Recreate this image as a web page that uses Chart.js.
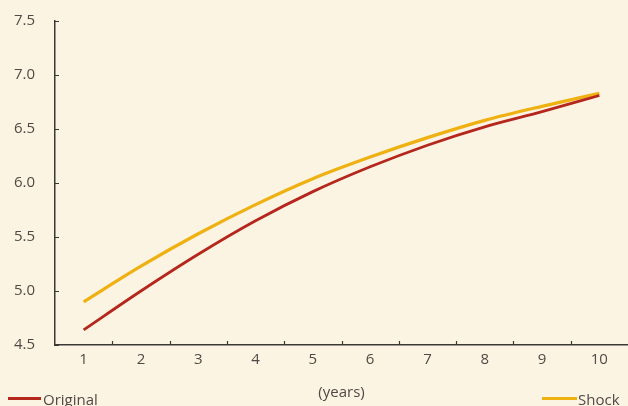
<!DOCTYPE html>
<html>
<head>
<meta charset="utf-8">
<script src="https://cdn.jsdelivr.net/npm/chart.js@4/dist/chart.umd.min.js"></script>
<style>
  html, body { margin: 0; padding: 0; background: #fcf4e3; }
  #wrap { width: 628px; height: 406px; }
</style>
</head>
<body>
<div id="wrap"><canvas id="c" width="628" height="406"></canvas></div>
<script>
// Maturity in years
const years = ['1', '2', '3', '4', '5', '6', '7', '8', '9', '10'];
// Yield curves
const original = [4.64, 5.00, 5.34, 5.65, 5.92, 6.15, 6.35, 6.52, 6.66, 6.81];
const shock = [4.90, 5.23, 5.53, 5.80, 6.04, 6.24, 6.42, 6.58, 6.71, 6.83];
const yMin = 4.5, yMax = 7.5, yStep = 0.5;

const FONT = '"Open Sans", "Noto Sans", sans-serif';
const TEXT = '#4f4a45';
const AXIS = '#3a3835';

// Short inward tick marks on both axes
const innerTicks = {
  id: 'innerTicks',
  afterDatasetsDraw(chart) {
    const { ctx } = chart;
    const x = chart.scales.x, y = chart.scales.y;
    ctx.save();
    ctx.strokeStyle = AXIS;
    ctx.lineWidth = 1.2;
    ctx.beginPath();
    y.ticks.forEach((t, i) => {
      const py = Math.round(y.getPixelForTick(i)) + 0.5;
      ctx.moveTo(y.right, py);
      ctx.lineTo(y.right + 4, py);
    });
    for (let i = 1; i < years.length; i++) {
      const px = Math.round((x.getPixelForValue(i - 1) + x.getPixelForValue(i)) / 2) + 0.5;
      ctx.moveTo(px, x.top);
      ctx.lineTo(px, x.top - 4);
    }
    ctx.stroke();
    ctx.restore();
  }
};

// Legend: first series at the bottom-left corner, second at the bottom-right
const cornerLegend = {
  id: 'cornerLegend',
  afterDraw(chart) {
    const { ctx } = chart;
    const ds = chart.data.datasets;
    ctx.save();
    ctx.font = '15px ' + FONT;
    ctx.fillStyle = TEXT;
    ctx.textBaseline = 'alphabetic';
    const lineY = 398.5, baseY = 405;
    // left item
    ctx.strokeStyle = ds[0].borderColor;
    ctx.lineWidth = 3;
    ctx.beginPath(); ctx.moveTo(8, lineY); ctx.lineTo(41, lineY); ctx.stroke();
    ctx.textAlign = 'left';
    ctx.fillText(ds[0].label, 43, baseY);
    // right item
    ctx.strokeStyle = ds[1].borderColor;
    ctx.beginPath(); ctx.moveTo(542, lineY); ctx.lineTo(577, lineY); ctx.stroke();
    ctx.fillText(ds[1].label, 578, baseY);
    ctx.restore();
  }
};

new Chart(document.getElementById('c'), {
  type: 'line',
  data: {
    labels: years,
    datasets: [
      { label: 'Original', data: original, borderColor: '#b5271d', borderWidth: 2.8,
        pointRadius: 0, cubicInterpolationMode: 'monotone', fill: false },
      { label: 'Shock', data: shock, borderColor: '#efb111', borderWidth: 3.2,
        pointRadius: 0, cubicInterpolationMode: 'monotone', fill: false }
    ]
  },
  options: {
    responsive: false,
    animation: false,
    layout: { padding: { top: 21, left: 0, right: 0, bottom: 0 } },
    plugins: { legend: { display: false }, tooltip: { enabled: false } },
    scales: {
      x: {
        offset: true,
        grid: { display: false, drawTicks: false },
        border: { display: true, color: AXIS, width: 1.5 },
        ticks: { color: TEXT, font: { family: FONT, size: 15 }, padding: 6, maxRotation: 0 },
        title: { display: true, text: '(years)', color: TEXT,
                 font: { family: FONT, size: 15 }, padding: { top: 0, bottom: 4 } },
        afterFit(s) { s.height = 61; }
      },
      y: {
        min: yMin, max: yMax,
        grid: { display: false, drawTicks: false },
        border: { display: true, color: AXIS, width: 1.5 },
        ticks: { stepSize: yStep, color: TEXT, font: { family: FONT, size: 15 }, padding: 20,
                 callback: v => Number(v).toFixed(1) },
        afterFit(s) { s.width = 55; s.paddingTop = 9; s.paddingBottom = 9; }
      }
    }
  },
  plugins: [innerTicks, cornerLegend]
});
</script>
</body>
</html>
